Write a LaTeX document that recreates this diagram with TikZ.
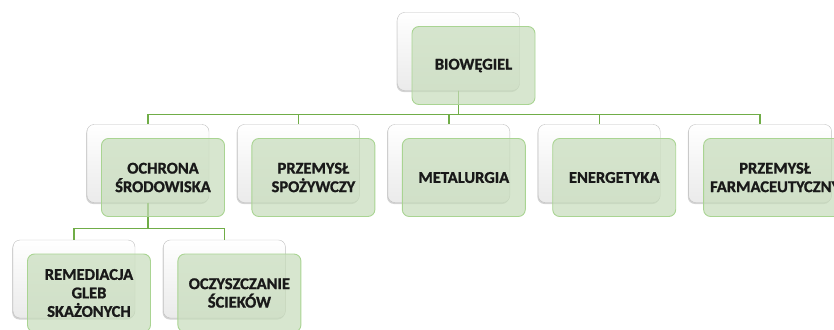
\documentclass[tikz,border=0pt]{standalone}
\usepackage{fontspec}
\setmainfont{Carlito}[BoldFeatures={FakeBold=1.2}]
\definecolor{LeafFill}{RGB}{198,220,186}
\definecolor{LeafLine}{RGB}{169,212,146}
\definecolor{LinkGreen}{RGB}{112,173,71}
\usetikzlibrary{positioning, shadows}

\begin{document}
\begin{tikzpicture}[x=1pt, y=-1pt,
        node distance=28pt,
        back/.style={rectangle, rounded corners=7pt, draw=black!25, top color=white, bottom color=black!8, drop shadow={shadow xshift=-0.8pt, shadow yshift=-1.5pt, opacity=0.35}, minimum width=122pt, minimum height=78pt},
        leaf/.style={rectangle, rounded corners=7pt, draw=LeafLine, line width=0.9pt, fill=LeafFill, fill opacity=0.7, text opacity=1, minimum width=123pt, minimum height=78pt, align=center, text=black!90, font=\bfseries\fontsize{16.5}{18.5}\selectfont, xshift=15pt, yshift=-14pt},
        link/.style={draw=LinkGreen, line width=1.4pt}
    ]
        \useasboundingbox (0,0) rectangle (834,329);
        % back cards
        \node[back] (bio) at (458.5,51.5) {};
        \node[back] (och) at (148,163.5) {};
        \node[back, right=of och] (spo) {};
        \node[back, right=of spo] (met) {};
        \node[back, right=of met] (ene) {};
        \node[back, right=of ene, minimum width=143pt] (far) {};
        \node[back] (rem) at (74,279) {};
        \node[back, right=of rem] (sci) {};
        % connectors
        \draw[link] (bio.south) -- ++(0,24) -| (och.north);
        \draw[link] (bio.south) -- ++(0,24) -| (spo.north);
        \draw[link] (bio.south) -- ++(0,24) -| (met.north);
        \draw[link] (bio.south) -- ++(0,24) -| (ene.north);
        \draw[link] (bio.south) -- ++(0,24) -| (far.north);
        \draw[link] (och.south) -- ++(0,26) -| (rem.north);
        \draw[link] (och.south) -- ++(0,26) -| (sci.north);
        % front cards
        \node[leaf] (bioF) at (bio) {BIOWĘGIEL};
        \node[leaf] (ochF) at (och) {OCHRONA\\ŚRODOWISKA};
        \node[leaf] (spoF) at (spo) {PRZEMYSŁ\\SPOŻYWCZY};
        \node[leaf] (metF) at (met) {METALURGIA};
        \node[leaf] (eneF) at (ene) {ENERGETYKA};
        \node[leaf, minimum width=143pt] (farF) at (far) {PRZEMYSŁ\\FARMACEUTYCZNY};
        \node[leaf] (remF) at (rem) {REMEDIACJA\\GLEB\\SKAŻONYCH};
        \node[leaf] (sciF) at (sci) {OCZYSZCZANIE\\ŚCIEKÓW};
    \end{tikzpicture}
\end{document}
